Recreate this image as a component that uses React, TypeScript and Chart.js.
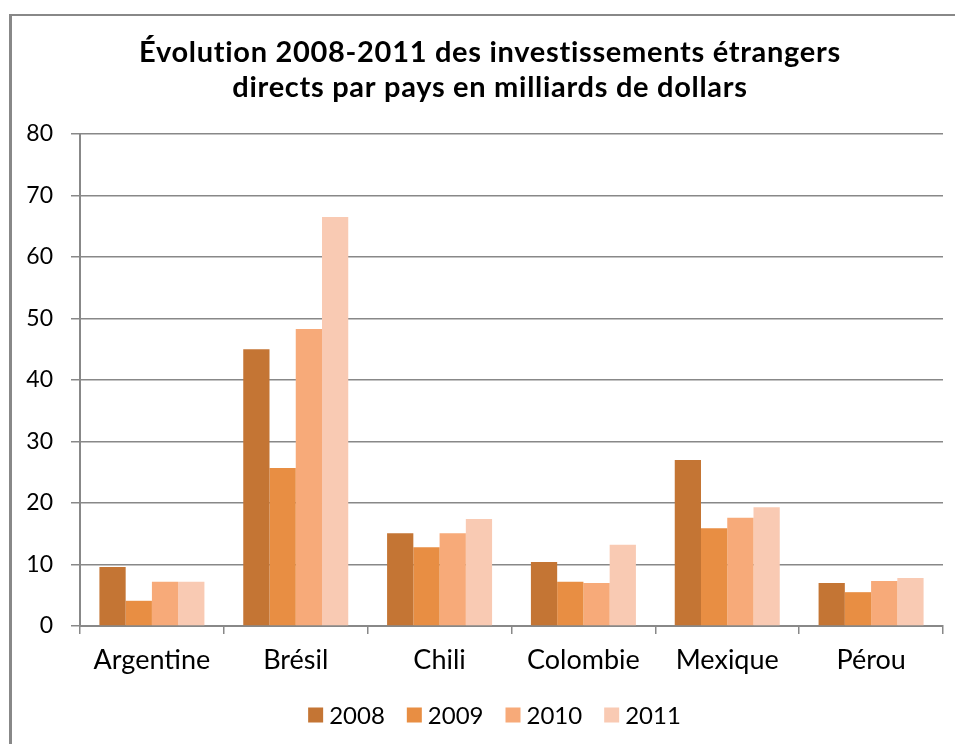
import React, { useEffect, useRef } from "react";
import { Chart, registerables } from "chart.js";

Chart.register(...registerables);

const categories = ["Argentine", "Brésil", "Chili", "Colombie", "Mexique", "Pérou"];
const years = ["2008", "2009", "2010", "2011"];
const values2008 = [9.6, 45.0, 15.1, 10.4, 27.0, 7.0];
const values2009 = [4.1, 25.7, 12.8, 7.2, 15.9, 5.5];
const values2010 = [7.2, 48.3, 15.1, 7.0, 17.6, 7.3];
const values2011 = [7.2, 66.5, 17.4, 13.2, 19.3, 7.8];
const titleLines = [
  "Évolution 2008-2011 des investissements étrangers",
  "directs par pays en milliards de dollars",
];
const colors = ["#C47534", "#E88E43", "#F7AA79", "#F9CAB3"];

const FONT = "Lato, 'DejaVu Sans', sans-serif";

const titlePlugin = {
  id: "customTitle",
  afterDraw(chart: any) {
    const ctx = chart.ctx;
    ctx.save();
    ctx.fillStyle = "#000";
    ctx.font = `bold 29px ${FONT}`;
    try {
      (ctx as any).letterSpacing = "0.7px";
    } catch (e) {}
    ctx.textAlign = "center";
    ctx.textBaseline = "middle";
    ctx.fillText(titleLines[0], 490, 53);
    ctx.fillText(titleLines[1], 490, 88);
    ctx.restore();
  },
};

const legendPlugin = {
  id: "customLegend",
  afterDraw(chart: any) {
    const ctx = chart.ctx;
    ctx.save();
    ctx.font = `24px ${FONT}`;
    ctx.textBaseline = "middle";
    ctx.textAlign = "left";
    const box = 15;
    const gapText = 6;
    const gapItem = 22;
    const ds = chart.data.datasets;
    const widths = ds.map((d: any) => box + gapText + ctx.measureText(d.label).width);
    const total = widths.reduce((a: number, b: number) => a + b, 0) + gapItem * (ds.length - 1);
    let x = 494.5 - total / 2;
    const cy = 715;
    ds.forEach((d: any, i: number) => {
      ctx.fillStyle = d.backgroundColor;
      ctx.fillRect(x, cy - box / 2, box, box);
      ctx.fillStyle = "#000";
      ctx.fillText(d.label, x + box + gapText, cy + 1);
      x += widths[i] + gapItem;
    });
    ctx.restore();
  },
};

export default function App() {
  const ref = useRef<HTMLCanvasElement | null>(null);
  useEffect(() => {
    document.body.style.margin = "0";
    if (!ref.current) return;
    const series = [values2008, values2009, values2010, values2011];
    const chart = new Chart(ref.current, {
      type: "bar",
      data: {
        labels: categories,
        datasets: years.map((y, i) => ({
          label: y,
          data: series[i],
          backgroundColor: colors[i],
          borderWidth: 0,
          categoryPercentage: 0.73,
          barPercentage: 1.0,
        })),
      },
      options: {
        animation: false,
        responsive: false,
        maintainAspectRatio: false,
        layout: { padding: { top: 134, right: 12, left: 0, bottom: 60 } },
        plugins: {
          title: { display: false },
          tooltip: { enabled: false },
          legend: { display: false },
        },
        scales: {
          x: {
            offset: true,
            grid: {
              offset: true,
              drawOnChartArea: false,
              drawTicks: true,
              tickLength: 8,
              color: "#888",
              lineWidth: 1.5,
            },
            border: { display: true, color: "#888", width: 2 },
            ticks: {
              color: "#000",
              font: { family: FONT, size: 27 },
              padding: 10,
            },
            afterFit(scale: any) {
              scale.height = 58;
            },
          },
          y: {
            min: 0,
            max: 80,
            ticks: {
              stepSize: 10,
              color: "#000",
              font: { family: FONT, size: 23 },
              padding: 18,
            },
            grid: {
              color: "#888",
              lineWidth: 1.5,
              tickLength: 9,
            },
            border: { display: true, color: "#888", width: 2 },
            afterFit(scale: any) {
              scale.width = 80;
            },
          },
        },
      },
      plugins: [titlePlugin, legendPlugin],
    });
    return () => chart.destroy();
  }, []);
  return (
    <div style={{ position: "relative", width: 955, height: 744, overflow: "hidden", background: "#fff" }}>
      <div
        style={{
          position: "absolute",
          left: 9,
          top: 14,
          width: 960,
          height: 740,
          borderLeft: "3px solid #888",
          borderTop: "2px solid #888",
        }}
      />
      <canvas ref={ref} width={955} height={744} style={{ position: "absolute", left: 0, top: 0 }} />
    </div>
  );
}
